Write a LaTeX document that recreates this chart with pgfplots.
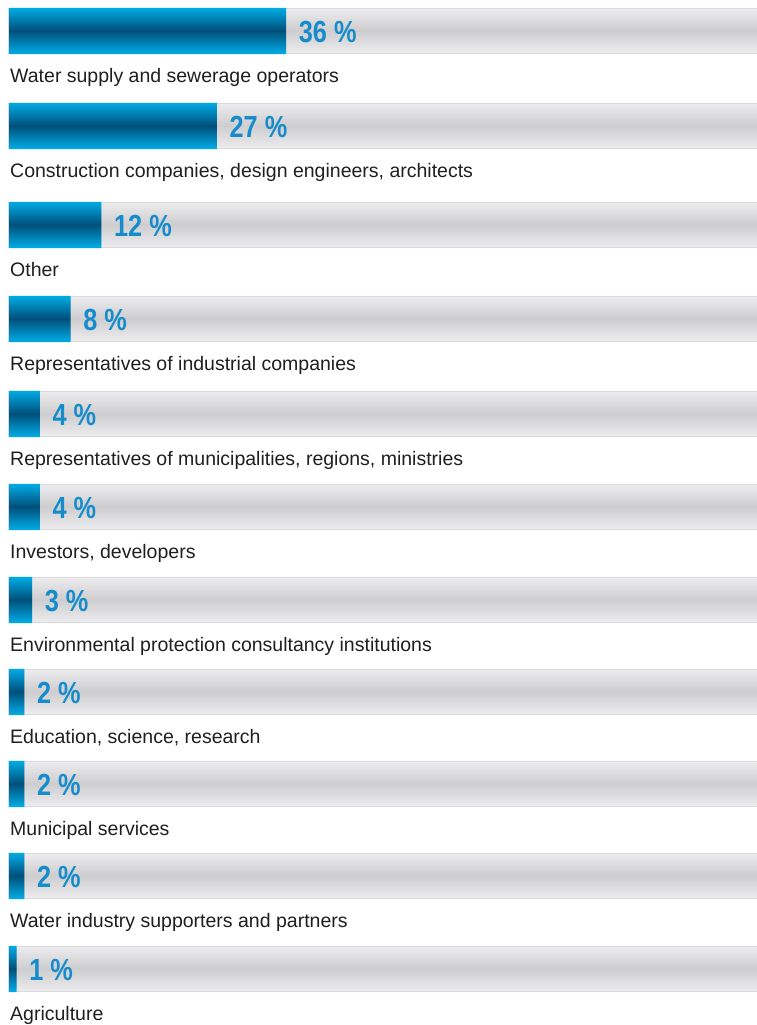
\documentclass[border=0pt]{standalone}
\usepackage{fontspec}
\setmainfont{Liberation Sans}
\newfontfamily\pctfont[FakeStretch=0.83]{Liberation Sans}
\usepackage{pgfplots}
\usepackage{pgfplotstable}
\pgfplotsset{compat=1.18}

\definecolor{barlight}{RGB}{0,168,226}
\definecolor{bardark}{RGB}{0,80,122}
\definecolor{tracklight}{RGB}{236,236,238}
\definecolor{trackdark}{RGB}{206,206,208}
\definecolor{trackedge}{RGB}{218,218,220}
\definecolor{pctblue}{RGB}{22,140,204}

% pos = vertical centre of each bar, counted from the top
\pgfplotstableread[col sep=semicolon]{
pos;val;label
31;36;Water supply and sewerage operators
126;27;Construction companies, design engineers, architects
225;12;Other
319;8;Representatives of industrial companies
414;4;Representatives of municipalities, regions, ministries
507;4;Investors, developers
600;3;Environmental protection consultancy institutions
692;2;Education, science, research
784;2;Municipal services
876;2;Water industry supporters and partners
969;1;Agriculture
}\shares

\begin{document}
\begin{tikzpicture}
\begin{axis}[
    x=7.7bp, y=1bp,
    y dir=reverse,
    xmin=-1.17, xmax=97.14,
    ymin=0, ymax=1025,
    hide axis,
]
% grey track behind every bar, drawn as thin strips to make the gradient
\pgfplotsinvokeforeach{0,...,22}{
  \pgfmathtruncatemacro\mix{round(100*abs(#1-11)/11)}
  \pgfmathsetmacro\shift{(#1-11)*2}
  \edef\doplot{\noexpand\addplot[xbar, bar shift=\shift bp, bar width=2.4bp,
      draw=none, fill=tracklight!\mix!trackdark, forget plot]
      table[x expr=100, y=pos] {\noexpand\shares};}
  \doplot
}
\addplot[xbar, bar shift=0pt, bar width=45bp, draw=trackedge,
    fill=none, line width=1.5bp, forget plot]
    table[x expr=100, y=pos] {\shares};
% the shares
\pgfplotsinvokeforeach{0,...,22}{
  \pgfmathtruncatemacro\mix{round(100*abs(#1-11)/11)}
  \pgfmathsetmacro\shift{(#1-11)*2}
  \edef\doplot{\noexpand\addplot[xbar, bar shift=\shift bp, bar width=2.4bp,
      draw=none, fill=barlight!\mix!bardark, forget plot]
      table[x=val, y=pos] {\noexpand\shares};}
  \doplot
}
% percentages at the bar ends
\addplot[draw=none, mark=none,
    point meta=x,
    nodes near coords={\pgfmathprintnumber[assume math mode=true]{\pgfplotspointmeta}\space\%},
    nodes near coords style={anchor=base west, inner sep=0pt,
        xshift=12.5bp, yshift=-11bp, text=pctblue,
        font=\pctfont\bfseries\fontsize{30.5bp}{34bp}\selectfont}]
    table[x=val, y=pos] {\shares};
% category names under the bars
\addplot[draw=none, mark=none,
    point meta=explicit symbolic,
    nodes near coords={\pgfplotspointmeta},
    nodes near coords style={anchor=base west, inner sep=0pt,
        xshift=1bp, yshift=-51bp, text=black!88,
        font=\fontsize{19.5bp}{23bp}\selectfont}]
    table[x expr=0, y=pos, meta=label] {\shares};
\path (rel axis cs:0,0) rectangle (rel axis cs:1,1);
\end{axis}
\end{tikzpicture}
\end{document}
